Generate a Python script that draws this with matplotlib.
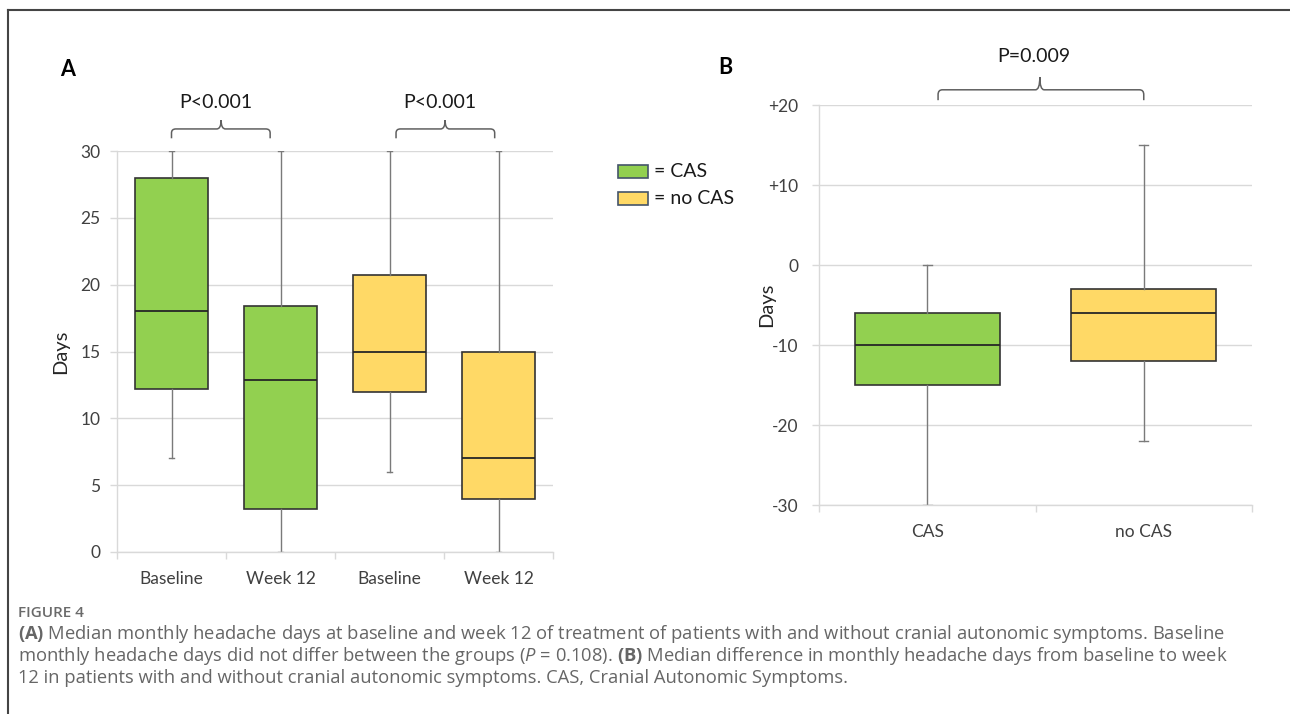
import matplotlib
matplotlib.use("Agg")
import matplotlib.pyplot as plt
from matplotlib.lines import Line2D
from matplotlib.patches import Rectangle, PathPatch
from matplotlib.path import Path

# ---------------- data ----------------
a_labels = ["Baseline", "Week 12", "Baseline", "Week 12"]
a_groups = ["CAS", "CAS", "no CAS", "no CAS"]
a_whislo = [7, 0, 6, 0]
a_q1 = [12.2, 3.2, 12.0, 4.0]
a_med = [18, 12.9, 15, 7]
a_q3 = [28, 18.4, 20.7, 15]
a_whishi = [30, 30, 30, 30]

b_labels = ["CAS", "no CAS"]
b_groups = ["CAS", "no CAS"]
b_whislo = [-30, -22]
b_q1 = [-15, -12]
b_med = [-10, -6]
b_q3 = [-6, -3]
b_whishi = [0, 15]

a_yticks = [0, 5, 10, 15, 20, 25, 30]
b_yticks = [-30, -20, -10, 0, 10, 20]
b_yticklabels = ["-30", "-20", "-10", "0", "+10", "+20"]

p_a = ["P<0.001", "P<0.001"]
p_b = "P=0.009"

colors = {"CAS": "#92d050", "no CAS": "#ffd966"}

plt.rcParams["font.family"] = ["Lato", "DejaVu Sans"]
plt.rcParams["mathtext.fontset"] = "custom"
plt.rcParams["mathtext.rm"] = "Open Sans"
plt.rcParams["mathtext.it"] = "Open Sans:italic"
plt.rcParams["mathtext.bf"] = "Open Sans:bold"

W, H = 1290, 714
fig = plt.figure(figsize=(W / 100, H / 100), dpi=100)
fig.patch.set_facecolor("white")

TXT = "#404040"
GRID = "#d9d9d9"


def px_axes(l, t, r, b):
    return fig.add_axes([l / W, 1 - b / H, (r - l) / W, (b - t) / H])


def style_axes(ax, n, labels):
    ax.set_xlim(-0.5, n - 0.5)
    for s in ["top", "right"]:
        ax.spines[s].set_visible(False)
    for s in ["left", "bottom"]:
        ax.spines[s].set_color(GRID)
        ax.spines[s].set_linewidth(1.0)
    ax.set_axisbelow(True)
    ax.yaxis.grid(True, color=GRID, lw=1.0)
    ax.set_xticks(list(range(n)))
    ax.set_xticklabels(labels)
    ax.set_xticks([i - 0.5 for i in range(n + 1)], minor=True)
    ax.tick_params(axis="x", which="major", length=0, pad=14, labelsize=12.5, labelcolor=TXT)
    ax.tick_params(axis="x", which="minor", length=5, color=GRID, width=1)
    ax.tick_params(axis="y", length=5, color=GRID, width=1, labelsize=12.5, labelcolor=TXT, pad=7)


def draw_boxes(ax, whislo, q1, med, q3, whishi, groups):
    stats = []
    for i in range(len(med)):
        stats.append(dict(whislo=whislo[i], q1=q1[i], med=med[i], q3=q3[i], whishi=whishi[i]))
    bp = ax.bxp(stats, positions=list(range(len(med))), widths=0.67, patch_artist=True,
                showfliers=False, capwidths=0.04, manage_ticks=False,
                boxprops=dict(edgecolor="#333333", linewidth=1.2),
                medianprops=dict(color="#262626", linewidth=1.3),
                whiskerprops=dict(color="#7a7a7a", linewidth=1.0),
                capprops=dict(color="#7a7a7a", linewidth=1.0))
    for patch, g in zip(bp["boxes"], groups):
        patch.set_facecolor(colors[g])


def brace(ax, x0, x1, xm, yh, yend, ytip, rx, ry):
    verts = [(x0, yend), (x0, yh - ry), (x0, yh), (x0 + rx, yh),
             (xm - rx, yh), (xm, yh), (xm, ytip),
             (xm, yh), (xm + rx, yh),
             (x1 - rx, yh), (x1, yh), (x1, yh - ry), (x1, yend)]
    codes = [Path.MOVETO, Path.LINETO, Path.CURVE3, Path.CURVE3,
             Path.LINETO, Path.CURVE3, Path.CURVE3,
             Path.CURVE3, Path.CURVE3,
             Path.LINETO, Path.CURVE3, Path.CURVE3, Path.LINETO]
    ax.add_patch(PathPatch(Path(verts, codes), fill=False, edgecolor="#606060",
                           lw=1.1, clip_on=False))


# ---------------- panel A ----------------
axA = px_axes(117, 151, 553, 552)
draw_boxes(axA, a_whislo, a_q1, a_med, a_q3, a_whishi, a_groups)
style_axes(axA, 4, a_labels)
axA.set_ylim(0, 30)
axA.set_yticks(a_yticks)
axA.set_ylabel("Days", fontsize=14.5, color="#262626")
axA.yaxis.set_label_coords((69 - 117) / 436, 0.5)

brace(axA, 0.0, 0.905, 0.455, 31.65, 30.95, 32.3, 0.04, 0.3)
brace(axA, 2.06, 2.965, 2.51, 31.65, 30.95, 32.3, 0.04, 0.3)
axA.text(0.41, 33.65, p_a[0], ha="center", va="center", fontsize=14, color="#1a1a1a", clip_on=False)
axA.text(2.46, 33.65, p_a[1], ha="center", va="center", fontsize=14, color="#1a1a1a", clip_on=False)

# ---------------- panel B ----------------
axB = px_axes(819, 105, 1252, 505)
draw_boxes(axB, b_whislo, b_q1, b_med, b_q3, b_whishi, b_groups)
style_axes(axB, 2, b_labels)
axB.set_ylim(-30, 20)
axB.set_yticks(b_yticks)
axB.set_yticklabels(b_yticklabels)
axB.tick_params(axis="y", pad=10)
axB.set_ylabel("Days", fontsize=14.5, color="#262626")
axB.yaxis.set_label_coords((775 - 819) / 433, 0.5)

brace(axB, 0.05, 1.0, 0.52, 21.9, 20.6, 23.5, 0.02, 0.6)
axB.text(0.49, 26.0, p_b, ha="center", va="center", fontsize=14, color="#1a1a1a", clip_on=False)

# ---------------- panel letters ----------------
fig.text(68 / W, 1 - 69 / H, "A", fontsize=15.5, fontweight="bold", ha="center", va="center", color="black")
fig.text(725 / W, 1 - 67 / H, "B", fontsize=15.5, fontweight="bold", ha="center", va="center", color="black")

# ---------------- legend ----------------
for yc, g in [(171.5, "CAS"), (198.5, "no CAS")]:
    fig.add_artist(Rectangle((618 / W, 1 - (yc + 6.5) / H), 30 / W, 13 / H,
                             transform=fig.transFigure, facecolor=colors[g],
                             edgecolor="#44546a", lw=1.2))
    fig.text(654 / W, 1 - yc / H, "= " + g, fontsize=14, ha="left", va="center", color="#1a1a1a")

# ---------------- frame ----------------
fig.add_artist(Line2D([8 / W, 1], [1 - 10 / H, 1 - 10 / H], transform=fig.transFigure, color="#444444", lw=1.5))
fig.add_artist(Line2D([8 / W, 8 / W], [0, 1 - 10 / H], transform=fig.transFigure, color="#444444", lw=1.5))

# ---------------- caption ----------------
CAP = "#666666"
fig.text(18 / W, 1 - 613 / H, "FIGURE 4", fontsize=11, fontweight="semibold",
         family="Open Sans", color="#6a6a6a", ha="left", va="center")
cap_lines = [
    r"$\mathbf{(A)}$ Median monthly headache days at baseline and week 12 of treatment of patients with and without cranial autonomic symptoms. Baseline",
    r"monthly headache days did not differ between the groups ($\mathit{P}$ = 0.108). $\mathbf{(B)}$ Median difference in monthly headache days from baseline to week",
    r"12 in patients with and without cranial autonomic symptoms. CAS, Cranial Autonomic Symptoms.",
]
for i, line in enumerate(cap_lines):
    fig.text(18 / W, 1 - (634 + 22 * i) / H, line, fontsize=13.2, family="Open Sans",
             color=CAP, ha="left", va="center")

fig.savefig("out.png", dpi=100)
